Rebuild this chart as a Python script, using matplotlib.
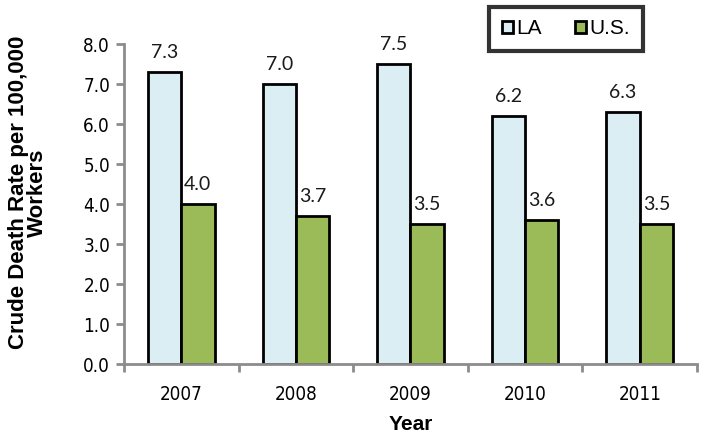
import numpy as np
import matplotlib.pyplot as plt
from matplotlib import font_manager

years = ['2007', '2008', '2009', '2010', '2011']
la = [7.3, 7.0, 7.5, 6.2, 6.3]
us = [4.0, 3.7, 3.5, 3.6, 3.5]

names = {f.name for f in font_manager.fontManager.ttflist}
narrow = 'Liberation Sans Narrow' if 'Liberation Sans Narrow' in names else 'DejaVu Sans'
lbl_font = 'Lato' if 'Lato' in names else 'DejaVu Sans'

fig = plt.figure(figsize=(7.02, 4.41), dpi=100)
ax = fig.add_axes([0.1766, 0.1746, 0.8163, 0.7256])

x = np.arange(len(years))
w = 0.29
b1 = ax.bar(x - w / 2, la, w, color='#dbeef3', edgecolor='black', linewidth=2, label='LA')
b2 = ax.bar(x + w / 2, us, w, color='#9bbb59', edgecolor='black', linewidth=2, label='U.S.')

for bars, vals in [(b1, la), (b2, us)]:
    for r, v in zip(bars, vals):
        ax.annotate(f'{v:.1f}', (r.get_x() + r.get_width() / 2, v), xytext=(0, 8),
                    textcoords='offset points', ha='center', va='bottom',
                    fontsize=14, family=lbl_font, color='#1a1a1a')

ax.set_xlim(-0.5, len(years) - 0.5)
ax.set_ylim(0, 8)
yt = np.arange(0, 8.1, 1)
ax.set_yticks(yt)
ax.set_yticklabels([f'{t:.1f}' for t in yt], family=narrow, stretch='condensed', fontsize=13.5)
ax.set_xticks(x)
ax.set_xticklabels(years, family=narrow, stretch='condensed', fontsize=13.5)
ax.set_xticks(np.arange(-0.5, len(years), 1), minor=True)
ax.tick_params(axis='x', which='major', length=0, pad=15)
ax.tick_params(axis='x', which='minor', length=6, width=2, color='#8c8c8c', direction='out')
ax.tick_params(axis='y', length=6, width=2, color='#8c8c8c', direction='out', pad=4)

for s in ['top', 'right']:
    ax.spines[s].set_visible(False)
for s in ['left', 'bottom']:
    ax.spines[s].set_color('#8c8c8c')
    ax.spines[s].set_linewidth(2)

ax.set_ylabel('Crude Death Rate per 100,000\nWorkers', family='Liberation Sans', fontweight='bold',
              fontsize=16, linespacing=0.9)
ax.yaxis.set_label_coords(-0.132, 0.535)
ax.set_xlabel('Year', family='Liberation Sans', fontweight='bold', fontsize=15, labelpad=8)

leg = fig.legend(handles=[b1, b2], loc='upper left', bbox_to_anchor=(489 / 702, 1 - 7 / 441),
                 ncol=2, frameon=True, fancybox=False, edgecolor='black',
                 handlelength=0.55, handleheight=0.55, handletextpad=0.15, columnspacing=1.6,
                 borderpad=0.6, borderaxespad=0, prop={'family': 'Liberation Sans', 'size': 15})
leg.get_frame().set_linewidth(3)

fig.savefig('out.png', dpi=100)
